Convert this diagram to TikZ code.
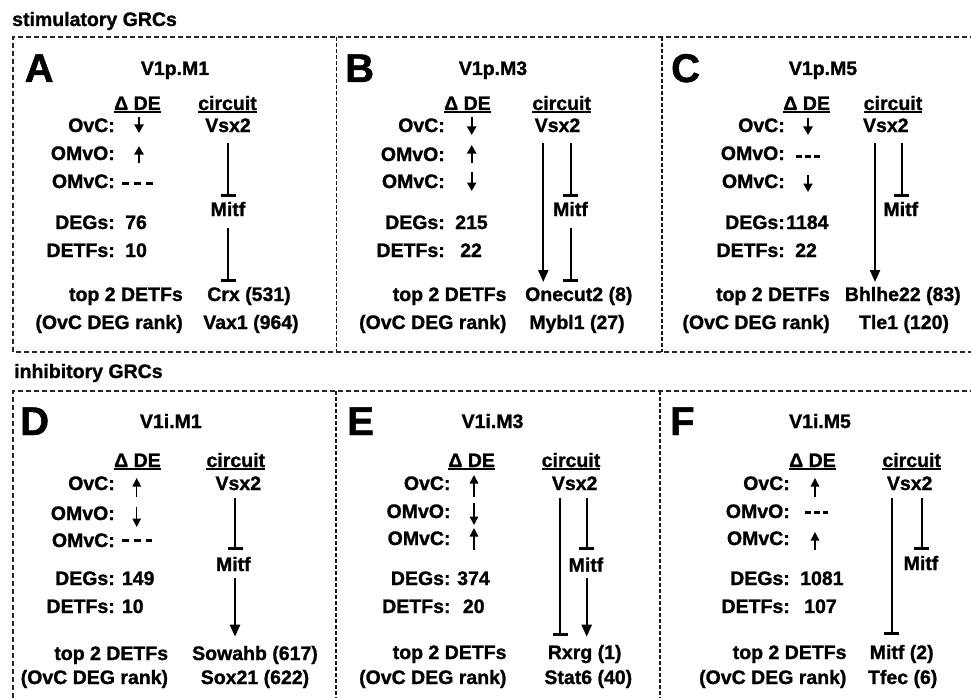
\documentclass[tikz,border=0pt]{standalone}
\usepackage{fontspec}
\setmainfont{Liberation Sans}[BoldFeatures={FakeBold=1.2}]
\usetikzlibrary{arrows.meta}
\begin{document}
\begin{tikzpicture}[x=1pt,y=-1pt,
  every node/.style={inner sep=0pt, font=\fontsize{19.5}{22}\selectfont\bfseries, text=black},
  panel/.style={font=\fontsize{40}{44}\selectfont\bfseries, anchor=base west},
  ttl/.style={anchor=base},
  lab/.style={anchor=base east},
  val/.style={anchor=base west},
  gene/.style={anchor=base},
  hdr/.style={anchor=base},
  boxline/.style={draw=black!85, line width=1.3pt, dash pattern=on 5pt off 3pt},
  divline/.style={draw=black!90, line width=1.8pt, dash pattern=on 4pt off 2pt},
  uline/.style={line width=1.4pt},
  dedge/.style={line width=2.2pt, -{Triangle[length=8.5pt,width=9pt]}},
  dedgethin/.style={line width=1.4pt, -{Triangle[length=8.5pt,width=8.5pt]}},
  nochange/.style={line width=3pt, dash pattern=on 7pt off 5pt},
  nochangeb/.style={line width=3pt, dash pattern=on 6pt off 3pt},
  act/.style={line width=2.3pt, -{Triangle[length=12pt,width=10pt]}},
  inh/.style={line width=2.3pt, -{Bar[width=15pt,line width=3.2pt]}},
]
\useasboundingbox (0,0) rectangle (971,698);
\clip (0,0) rectangle (971,698);

% section titles
\node[anchor=base west] (stim) at (12,26) {stimulatory GRCs};
\node[anchor=base west] (inhi) at (14,378) {inhibitory GRCs};

% frames
\draw[boxline] (975,37) -- (13,37) -- (13,352) -- (975,352);
\draw[divline] (336.5,37) -- (336.5,352);
\draw[divline] (661.7,37) -- (661.7,352);
\draw[boxline] (975,391) -- (13,391) -- (13,705);
\draw[divline] (336,391) -- (336,705);
\draw[divline] (660,391) -- (660,705);

% ================= Panel A
\node[panel] (pA) at (24.5,82) {A};
\node[ttl] (tA) at (175,75) {V1p.M1};
\node[hdr] (dA) at (137.5,110) {Δ DE};
\draw[uline] ([yshift=-2pt]dA.base west) -- ([yshift=-2pt]dA.base east);
\node[hdr] (cA) at (227.5,110) {circuit};
\draw[uline] ([yshift=-2pt]cA.base west) -- ([yshift=-2pt]cA.base east);
\node[lab] (oA) at (115,132) {OvC:};
\node[lab] (mvoA) at (115,160) {OMvO:};
\node[lab] (mvcA) at (115,188) {OMvC:};
\node[lab] (degA) at (115,229) {DEGs:};
\node[val] (degvA) at (125,229) {76};
\node[lab] (tfA) at (115,257) {DETFs:};
\node[val] (tfvA) at (125,257) {10};
\node[lab] (topA) at (183,301) {top 2 DETFs};
\node[lab] (rkA) at (183,329) {(OvC DEG rank)};
\node[gene] (vA) at (228,132) {Vsx2};
\node[gene] (mA) at (228,216) {Mitf};
\node[gene] (g1A) at (249,301) {Crx (531)};
\node[gene] (g2A) at (251,329) {Vax1 (964)};
\draw[dedge] ([xshift=24pt,yshift=15pt]oA.base east) -- ([xshift=24pt,yshift=-1pt]oA.base east);
\draw[dedge] ([xshift=24pt,yshift=-3pt]mvoA.base east) -- ([xshift=24pt,yshift=14pt]mvoA.base east);
\draw[nochange] ([xshift=7pt,yshift=5pt]mvcA.base east) -- ([xshift=38pt,yshift=5pt]mvcA.base east);
\draw[inh] ([yshift=-11pt]vA.base) -- ([yshift=19pt]mA.base);
\draw[inh] ([yshift=-12pt]mA.base) -- ([xshift=-21pt,yshift=19pt]g1A.base);

% ================= Panel B
\node[panel] (pB) at (345,82) {B};
\node[ttl] (tB) at (493,75) {V1p.M3};
\node[hdr] (dB) at (467.5,110) {Δ DE};
\draw[uline] ([yshift=-2pt]dB.base west) -- ([yshift=-2pt]dB.base east);
\node[hdr] (cB) at (561.7,110) {circuit};
\draw[uline] ([yshift=-2pt]cB.base west) -- ([yshift=-2pt]cB.base east);
\node[lab] (oB) at (445,132) {OvC:};
\node[lab] (mvoB) at (445,161) {OMvO:};
\node[lab] (mvcB) at (445,188) {OMvC:};
\node[lab] (degB) at (445,229) {DEGs:};
\node[val] (degvB) at (455,229) {215};
\node[lab] (tfB) at (445,257) {DETFs:};
\node[val] (tfvB) at (460,257) {22};
\node[lab] (topB) at (506.7,301) {top 2 DETFs};
\node[lab] (rkB) at (506.7,329) {(OvC DEG rank)};
\node[gene] (vB) at (557.5,132) {Vsx2};
\node[gene] (mB) at (570.5,216) {Mitf};
\node[gene] (g1B) at (578.8,301) {Onecut2 (8)};
\node[gene] (g2B) at (577,329) {Mybl1 (27)};
\draw[dedge] ([xshift=26.7pt,yshift=15pt]oB.base east) -- ([xshift=26.7pt,yshift=-3pt]oB.base east);
\draw[dedge] ([xshift=26.7pt,yshift=-2pt]mvoB.base east) -- ([xshift=26.7pt,yshift=16pt]mvoB.base east);
\draw[dedge] ([xshift=26.7pt,yshift=16pt]mvcB.base east) -- ([xshift=26.7pt,yshift=-3pt]mvcB.base east);
\draw[act] ([xshift=-14.2pt,yshift=-11pt]vB.base) -- ([xshift=-35.5pt,yshift=19pt]g1B.base);
\draw[inh] ([xshift=13.2pt,yshift=-11pt]vB.base) -- ([xshift=0.2pt,yshift=19pt]mB.base);
\draw[inh] ([xshift=0.2pt,yshift=-12pt]mB.base) -- ([xshift=-8.1pt,yshift=19pt]g1B.base);

% ================= Panel C
\node[panel] (pC) at (671,82) {C};
\node[ttl] (tC) at (823,75) {V1p.M5};
\node[hdr] (dC) at (806.7,110) {Δ DE};
\draw[uline] ([yshift=-2pt]dC.base west) -- ([yshift=-2pt]dC.base east);
\node[hdr] (cC) at (893,110) {circuit};
\draw[uline] ([yshift=-2pt]cC.base west) -- ([yshift=-2pt]cC.base east);
\node[lab] (oC) at (785,132) {OvC:};
\node[lab] (mvoC) at (785,160) {OMvO:};
\node[lab] (mvcC) at (785,188) {OMvC:};
\node[lab] (degC) at (785,229) {DEGs:};
\node[val] (degvC) at (786,229) {1184};
\node[lab] (tfC) at (785,257) {DETFs:};
\node[val] (tfvC) at (795,257) {22};
\node[lab] (topC) at (830,301) {top 2 DETFs};
\node[lab] (rkC) at (830,329) {(OvC DEG rank)};
\node[gene] (vC) at (885.8,132) {Vsx2};
\node[gene] (mC) at (900.8,216) {Mitf};
\node[gene] (g1C) at (902.8,301) {Bhlhe22 (83)};
\node[gene] (g2C) at (904,329) {Tle1 (120)};
\draw[dedge] ([xshift=23pt,yshift=14pt]oC.base east) -- ([xshift=23pt,yshift=-3pt]oC.base east);
\draw[nochangeb] ([xshift=11pt,yshift=4pt]mvoC.base east) -- ([xshift=35pt,yshift=4pt]mvoC.base east);
\draw[dedge] ([xshift=23pt,yshift=13pt]mvcC.base east) -- ([xshift=23pt,yshift=-4pt]mvcC.base east);
\draw[act] ([xshift=-10.8pt,yshift=-11pt]vC.base) -- ([xshift=-27.8pt,yshift=19pt]g1C.base);
\draw[inh] ([xshift=15.9pt,yshift=-11pt]vC.base) -- ([xshift=0.9pt,yshift=19pt]mC.base);

% ================= Panel D
\node[panel] (pD) at (20,435) {D};
\node[ttl] (tD) at (170.8,428) {V1i.M1};
\node[hdr] (dD) at (137.5,467) {Δ DE};
\draw[uline] ([yshift=-2pt]dD.base west) -- ([yshift=-2pt]dD.base east);
\node[hdr] (cD) at (235.8,467) {circuit};
\draw[uline] ([yshift=-2pt]cD.base west) -- ([yshift=-2pt]cD.base east);
\node[lab] (oD) at (115,490) {OvC:};
\node[lab] (mvoD) at (115,520) {OMvO:};
\node[lab] (mvcD) at (115,547) {OMvC:};
\node[lab] (degD) at (115,585) {DEGs:};
\node[val] (degvD) at (121.7,585) {149};
\node[lab] (tfD) at (115,613) {DETFs:};
\node[val] (tfvD) at (121.7,613) {10};
\node[lab] (topD) at (168.3,660) {top 2 DETFs};
\node[lab] (rkD) at (168.3,684) {(OvC DEG rank)};
\node[gene] (vD) at (238.3,490) {Vsx2};
\node[gene] (mD) at (233.3,571) {Mitf};
\node[gene] (g1D) at (255,660) {Sowahb (617)};
\node[gene] (g2D) at (255,684) {Sox21 (622)};
\draw[dedgethin] ([xshift=21.7pt,yshift=-7pt]oD.base east) -- ([xshift=21.7pt,yshift=12pt]oD.base east);
\draw[dedgethin] ([xshift=21.7pt,yshift=13pt]mvoD.base east) -- ([xshift=21.7pt,yshift=-7pt]mvoD.base east);
\draw[nochange] ([xshift=6.7pt,yshift=7pt]mvcD.base east) -- ([xshift=36.7pt,yshift=7pt]mvcD.base east);
\draw[inh] ([xshift=-3.3pt,yshift=-8.3pt]vD.base) -- ([xshift=1.7pt,yshift=21pt]mD.base);
\draw[act] ([xshift=1.7pt,yshift=-7.3pt]mD.base) -- ([xshift=-20pt,yshift=23.3pt]g1D.base);

% ================= Panel E
\node[panel] (pE) at (347,435) {E};
\node[ttl] (tE) at (492.5,428) {V1i.M3};
\node[hdr] (dE) at (471.7,467) {Δ DE};
\draw[uline] ([yshift=-2pt]dE.base west) -- ([yshift=-2pt]dE.base east);
\node[hdr] (cE) at (571,467) {circuit};
\draw[uline] ([yshift=-2pt]cE.base west) -- ([yshift=-2pt]cE.base east);
\node[lab] (oE) at (450.7,490) {OvC:};
\node[lab] (mvoE) at (450.7,518) {OMvO:};
\node[lab] (mvcE) at (450.7,545) {OMvC:};
\node[lab] (degE) at (450.7,585) {DEGs:};
\node[val] (degvE) at (457,585) {374};
\node[lab] (tfE) at (450.7,613) {DETFs:};
\node[val] (tfvE) at (462.7,613) {20};
\node[lab] (topE) at (506.7,659) {top 2 DETFs};
\node[lab] (rkE) at (506.7,684) {(OvC DEG rank)};
\node[gene] (vE) at (574.7,490) {Vsx2};
\node[gene] (mE) at (586,571.7) {Mitf};
\node[gene] (g1E) at (584.7,659) {Rxrg (1)};
\node[gene] (g2E) at (588.3,684) {Stat6 (40)};
\draw[dedgethin] ([xshift=23.3pt,yshift=-7pt]oE.base east) -- ([xshift=23.3pt,yshift=15pt]oE.base east);
\draw[dedgethin] ([xshift=23.3pt,yshift=15pt]mvoE.base east) -- ([xshift=23.3pt,yshift=-7pt]mvoE.base east);
\draw[dedgethin] ([xshift=23.3pt,yshift=-5pt]mvcE.base east) -- ([xshift=23.3pt,yshift=17pt]mvcE.base east);
\draw[inh] ([xshift=-14.7pt,yshift=-8.3pt]vE.base) -- ([xshift=-24.7pt,yshift=23pt]g1E.base);
\draw[inh] ([xshift=12pt,yshift=-8.3pt]vE.base) -- ([xshift=0.7pt,yshift=21.7pt]mE.base);
\draw[act] ([xshift=0.7pt,yshift=-6.6pt]mE.base) -- ([xshift=2pt,yshift=22.3pt]g1E.base);

% ================= Panel F
\node[panel] (pF) at (670,435) {F};
\node[ttl] (tF) at (820,428) {V1i.M5};
\node[hdr] (dF) at (812.5,467) {Δ DE};
\draw[uline] ([yshift=-2pt]dF.base west) -- ([yshift=-2pt]dF.base east);
\node[hdr] (cF) at (911.7,467) {circuit};
\draw[uline] ([yshift=-2pt]cF.base west) -- ([yshift=-2pt]cF.base east);
\node[lab] (oF) at (790,490) {OvC:};
\node[lab] (mvoF) at (790,518) {OMvO:};
\node[lab] (mvcF) at (790,545) {OMvC:};
\node[lab] (degF) at (790,585) {DEGs:};
\node[val] (degvF) at (800,585) {1081};
\node[lab] (tfF) at (790,613) {DETFs:};
\node[val] (tfvF) at (804,613) {107};
\node[lab] (topF) at (846.7,659) {top 2 DETFs};
\node[lab] (rkF) at (846.7,684) {(OvC DEG rank)};
\node[gene] (vF) at (909.7,490) {Vsx2};
\node[gene] (mF) at (921,570) {Mitf};
\node[gene] (g1F) at (901.7,659) {Mitf (2)};
\node[gene] (g2F) at (902.7,684) {Tfec (6)};
\draw[dedgethin] ([xshift=25pt,yshift=-7pt]oF.base east) -- ([xshift=25pt,yshift=12pt]oF.base east);
\draw[nochangeb] ([xshift=15pt,yshift=6pt]mvoF.base east) -- ([xshift=38pt,yshift=6pt]mvoF.base east);
\draw[dedgethin] ([xshift=25pt,yshift=-5pt]mvcF.base east) -- ([xshift=25pt,yshift=13pt]mvcF.base east);
\draw[inh] ([xshift=-18pt,yshift=-8.3pt]vF.base) -- ([xshift=-10pt,yshift=24pt]g1F.base);
\draw[inh] ([xshift=12pt,yshift=-8.3pt]vF.base) -- ([xshift=0.7pt,yshift=20pt]mF.base);
\end{tikzpicture}
\end{document}
